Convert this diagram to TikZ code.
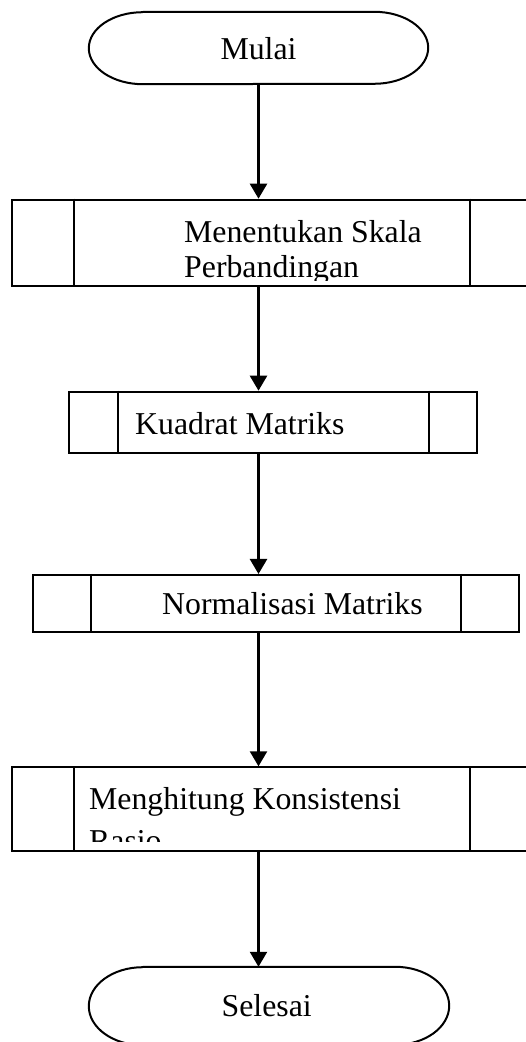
\documentclass[tikz,border=0pt]{standalone}
\usepackage{fontspec}
\setmainfont{Liberation Serif}
\usetikzlibrary{arrows.meta}

\begin{document}
\begin{tikzpicture}[x=1pt,y=1pt,
  proses/.style={rectangle,draw,line width=2pt,inner sep=0pt,anchor=south west},
  ujung/.style={rectangle,inner sep=0pt},
  teks/.style={anchor=base west,inner sep=0pt,font=\fontsize{31.8}{36}\selectfont},
  panah/.style={line width=2.4pt,-{Triangle[width=17pt,length=15pt]}}]
\useasboundingbox (0,0) rectangle (526,1042);
\clip (0,0) rectangle (526,1042);
% start and end
\node[ujung,minimum width=339,minimum height=72] (mulai) at (258.5,994) {};
\node[ujung,minimum width=360,minimum height=78] (selesai) at (269,36) {};
\draw[line width=2pt] ([xshift=54]mulai.north west) -- ([xshift=-54]mulai.north east) arc[start angle=90,end angle=-90,x radius=54,y radius=36] -- ([xshift=54]mulai.south west) arc[start angle=270,end angle=90,x radius=54,y radius=36];
\draw[line width=2pt] ([xshift=54]selesai.north west) -- ([xshift=-54]selesai.north east) arc[start angle=90,end angle=-90,x radius=54,y radius=39] -- ([xshift=54]selesai.south west) arc[start angle=270,end angle=90,x radius=54,y radius=39];
\node[teks,anchor=base] (tmulai) at (258.5,982) {Mulai};
\node[teks,anchor=base] (tselesai) at (266.7,25.3) {Selesai};
% process boxes
\node[proses,minimum width=522,minimum height=86.8] (tentukan) at (11,754.5) {};
\node[proses,minimum width=407.4,minimum height=61.3] (kuadrat) at (68.3,588) {};
\node[proses,minimum width=486,minimum height=57] (normal) at (32,409) {};
\node[proses,minimum width=522,minimum height=83.4] (hitung) at (11,190.3) {};
\draw[line width=2pt] ([xshift=63]tentukan.north west) -- ([xshift=63]tentukan.south west);
\draw[line width=2pt] ([xshift=459]tentukan.north west) -- ([xshift=459]tentukan.south west);
\draw[line width=2pt] ([xshift=50]kuadrat.north west) -- ([xshift=50]kuadrat.south west);
\draw[line width=2pt] ([xshift=-49]kuadrat.north east) -- ([xshift=-49]kuadrat.south east);
\draw[line width=2pt] ([xshift=59]normal.north west) -- ([xshift=59]normal.south west);
\draw[line width=2pt] ([xshift=-59]normal.north east) -- ([xshift=-59]normal.south east);
\draw[line width=2pt] ([xshift=63]hitung.north west) -- ([xshift=63]hitung.south west);
\draw[line width=2pt] ([xshift=459]hitung.north west) -- ([xshift=459]hitung.south west);
\begin{scope}
\clip ([yshift=7]tentukan.south west) rectangle (tentukan.north east);
\node[teks] (ttentukan) at (184,799) {Menentukan Skala};
\node[teks] (ttentukanb) at (184,764) {Perbandingan};
\end{scope}
\node[teks] (tkuadrat) at (135,607) {Kuadrat Matriks};
\node[teks] (tnormal) at (162,427) {Normalisasi Matriks};
\begin{scope}
\clip ([yshift=10]hitung.south west) rectangle (hitung.north east);
\node[teks] (thitung) at (89,232) {Menghitung Konsistensi};
\node[teks] (thitungb) at (89,190.5) {Rasio};
\end{scope}
% arrows
\draw[panah] (mulai.south) -- (mulai.south |- tentukan.north);
\draw[panah] (mulai.south |- tentukan.south) -- (mulai.south |- kuadrat.north);
\draw[panah] (mulai.south |- kuadrat.south) -- (mulai.south |- normal.north);
\draw[panah] (mulai.south |- normal.south) -- (mulai.south |- hitung.north);
\draw[panah] (mulai.south |- hitung.south) -- (mulai.south |- selesai.north);
\end{tikzpicture}
\end{document}
